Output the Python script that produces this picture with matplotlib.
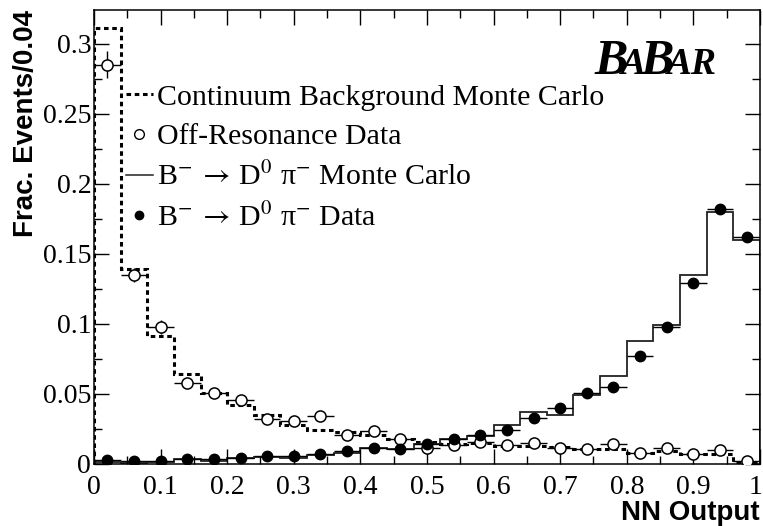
import numpy as np
import matplotlib.pyplot as plt
import matplotlib.transforms as mtransforms
from matplotlib.lines import Line2D
from matplotlib.ticker import MultipleLocator

plt.rcParams['mathtext.fontset'] = 'stix'

# NN output histograms, 25 bins of width 0.04 between 0 and 1
n_bins = 25
bin_width = 0.04

cont_mc = [0.311, 0.139, 0.091, 0.064, 0.051, 0.042, 0.035, 0.028, 0.024, 0.023,
           0.021, 0.018, 0.016, 0.014, 0.015, 0.013, 0.013, 0.012, 0.011, 0.011,
           0.008, 0.009, 0.007, 0.007, 0.0015]
offres = [0.285, 0.135, 0.098, 0.058, 0.051, 0.046, 0.032, 0.031, 0.034, 0.021,
          0.0236, 0.0176, 0.0115, 0.0135, 0.016, 0.0135, 0.015, 0.0115, 0.011, 0.014,
          0.008, 0.0115, 0.007, 0.010, 0.002]
offres_err = [0.0095, 0.005, 0.005, 0.003, 0.003, 0.003, 0.002, 0.002, 0.002, 0.002,
              0.002, 0.002, 0.002, 0.002, 0.002, 0.002, 0.002, 0.002, 0.002, 0.002,
              0.002, 0.002, 0.002, 0.002, 0.001]
sig_mc = [0.0017, 0.001, 0.0017, 0.0036, 0.002, 0.004, 0.005, 0.004, 0.0064, 0.008,
          0.0117, 0.0107, 0.014, 0.018, 0.020, 0.028, 0.037, 0.035, 0.049, 0.063,
          0.088, 0.099, 0.135, 0.180, 0.160]
sig_data = [0.003, 0.002, 0.0024, 0.0038, 0.0033, 0.0045, 0.006, 0.006, 0.0074, 0.0095,
            0.0114, 0.0107, 0.014, 0.018, 0.021, 0.024, 0.033, 0.040, 0.051, 0.055,
            0.077, 0.098, 0.129, 0.182, 0.162]
sig_err = [0.001, 0.001, 0.001, 0.001, 0.001, 0.001, 0.001, 0.001, 0.001, 0.001,
           0.001, 0.001, 0.001, 0.001, 0.001, 0.001, 0.0015, 0.0015, 0.002, 0.002,
           0.002, 0.002, 0.0025, 0.003, 0.003]

xtick_labels = ['0', '0.1', '0.2', '0.3', '0.4', '0.5', '0.6', '0.7', '0.8', '0.9', '1']
ytick_labels = ['0', '0.05', '0.1', '0.15', '0.2', '0.25', '0.3']

edges = np.arange(n_bins + 1) * bin_width
centers = edges[:-1] + bin_width / 2

serif = 'Liberation Serif'
sans = 'Liberation Sans'

fig = plt.figure(figsize=(7.63, 5.26), dpi=100)
ax = fig.add_axes([0.1232, 0.1179, 0.8728, 0.8631])

ax.stairs(cont_mc, edges, color='black', lw=2.2, linestyle=(0, (1.5, 1.2)))
ax.stairs(sig_mc, edges, color='#222222', lw=1.3)

ax.errorbar(centers, offres, yerr=offres_err, xerr=bin_width / 2, fmt='o',
            mfc='white', mec='black', mew=1.1, ms=8, ecolor='black', elinewidth=1.0,
            capsize=0, zorder=3)
ax.errorbar(centers, sig_data, yerr=sig_err, xerr=bin_width / 2, fmt='o',
            mfc='black', mec='black', ms=7.5, ecolor='black', elinewidth=1.0,
            capsize=0, zorder=4)

ax.set_xlim(0, 1)
ax.set_ylim(0, 0.324)
ax.set_xticks(np.arange(len(xtick_labels)) * 0.1)
ax.set_xticklabels(xtick_labels, fontfamily=serif, fontsize=20)
ax.set_yticks(np.arange(len(ytick_labels)) * 0.05)
ax.set_yticklabels(ytick_labels, fontfamily=serif, fontsize=20)
ax.xaxis.set_minor_locator(MultipleLocator(0.05))
ax.yaxis.set_minor_locator(MultipleLocator(0.025))
ax.tick_params(which='both', direction='in', top=True, right=True, width=1.0)
ax.tick_params(which='major', length=11)
ax.tick_params(which='minor', length=5.5)
ax.tick_params(axis='x', pad=8)
ax.tick_params(axis='y', pad=2)
for s in ax.spines.values():
    s.set_linewidth(1.1)

# keep the last x label inside the canvas
last = ax.get_xticklabels()[-1]
last.set_transform(last.get_transform() +
                   mtransforms.ScaledTranslation(-4 / 100, 0, fig.dpi_scale_trans))

ax.set_xlabel('NN Output', fontfamily=sans, fontweight='bold', fontsize=20, loc='right',
              labelpad=0)
ax.set_ylabel('Frac. Events/0.04', fontfamily=sans, fontweight='bold', fontsize=20,
              loc='top', labelpad=3)

handles = [
    Line2D([], [], color='black', lw=2.2, linestyle=(0, (1.5, 1.2))),
    Line2D([], [], color='black', marker='o', mfc='white', mec='black', ms=7, lw=0),
    Line2D([], [], color='#222222', lw=1.1),
    Line2D([], [], color='black', marker='o', ms=6, lw=0),
]
labels = [
    'Continuum Background Monte Carlo',
    'Off-Resonance Data',
    r'B$^{-}\:\rightarrow\:$D$^{0}$ π$^{-}$ Monte Carlo',
    r'B$^{-}\:\rightarrow\:$D$^{0}$ π$^{-}$ Data',
]
ax.legend(handles, labels, loc='upper left', bbox_to_anchor=(0.03, 0.864), frameon=False,
          prop={'family': serif, 'size': 21.5}, handlelength=0.9, handletextpad=0.15,
          labelspacing=0.42, borderaxespad=0)

logo_kw = dict(fontfamily=serif, fontweight='bold', fontstyle='italic', color='black')
t1 = ax.text(0.752, 0.86, 'B', transform=ax.transAxes, fontsize=36, va='baseline', **logo_kw)
t2 = ax.annotate('A', xy=(1, 0), xycoords=t1, xytext=(-5, 2), textcoords='offset points',
                 fontsize=27, va='bottom', **logo_kw)
t3 = ax.annotate('B', xy=(1, 0), xycoords=t2, xytext=(-4, -2), textcoords='offset points',
                 fontsize=36, va='bottom', **logo_kw)
t4 = ax.annotate('AR', xy=(1, 0), xycoords=t3, xytext=(-5, 2), textcoords='offset points',
                 fontsize=27, va='bottom', **logo_kw)

fig.savefig('out.png', dpi=100)
